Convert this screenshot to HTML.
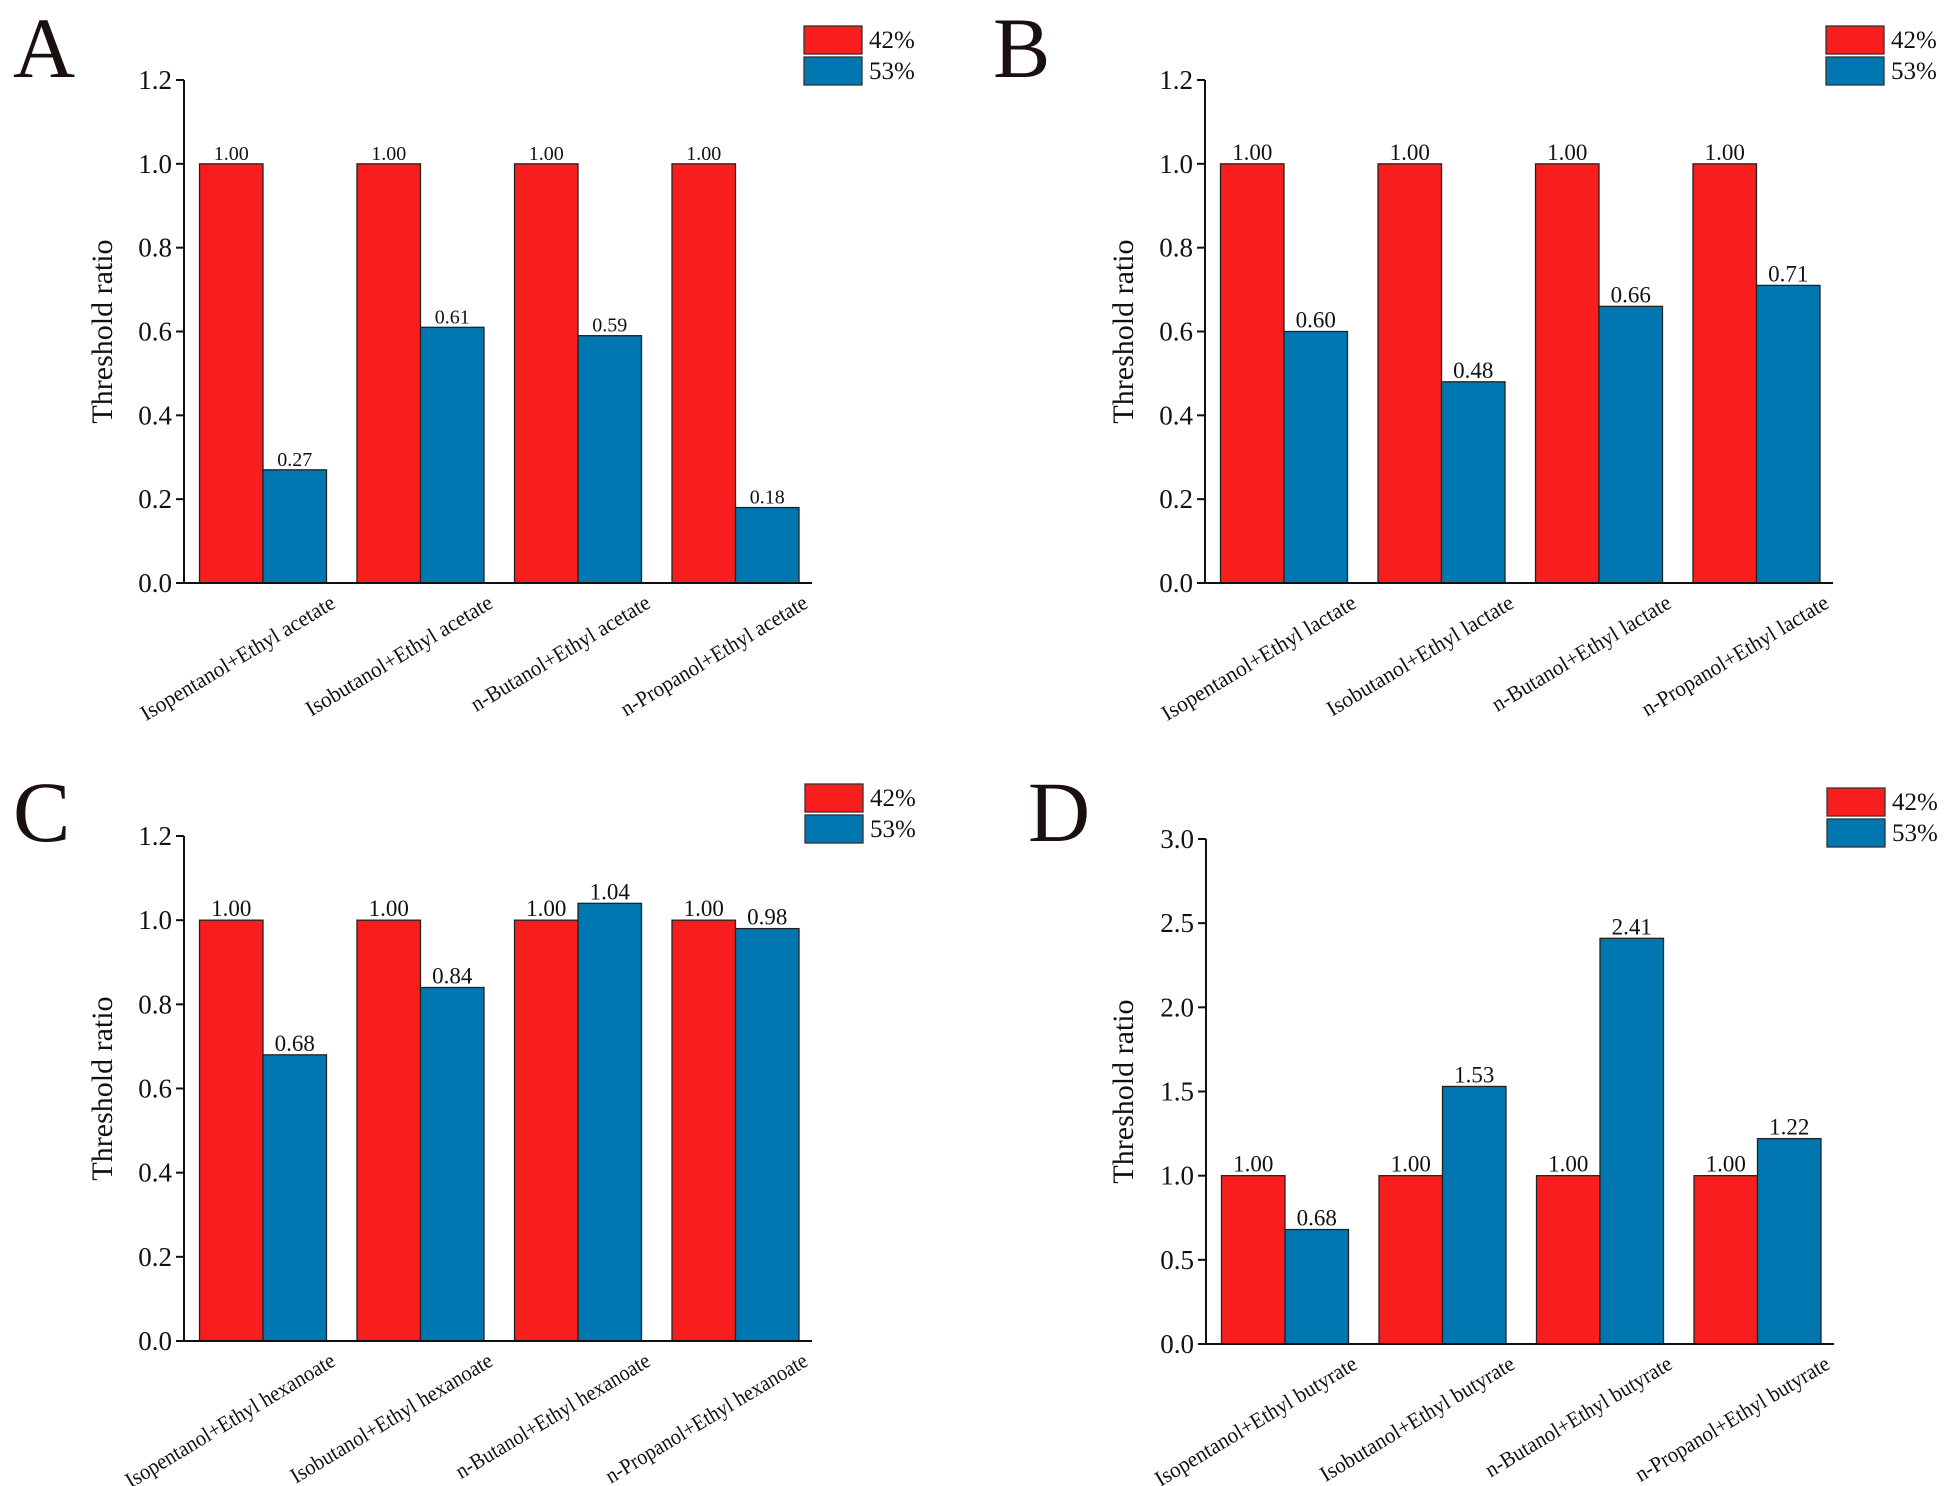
<!DOCTYPE html>
<html><head><meta charset="utf-8"><style>
html,body{margin:0;padding:0;background:#fff}
svg{display:block;font-family:"Liberation Serif",serif}
</style></head><body>
<svg id="fig" width="1949" height="1486" viewBox="0 0 1949 1486" xmlns="http://www.w3.org/2000/svg"></svg>
<script>
const seriesNames = ["42%", "53%"];
const catsA = ["Isopentanol+Ethyl acetate","Isobutanol+Ethyl acetate","n-Butanol+Ethyl acetate","n-Propanol+Ethyl acetate"];
const catsB = ["Isopentanol+Ethyl lactate","Isobutanol+Ethyl lactate","n-Butanol+Ethyl lactate","n-Propanol+Ethyl lactate"];
const catsC = ["Isopentanol+Ethyl hexanoate","Isobutanol+Ethyl hexanoate","n-Butanol+Ethyl hexanoate","n-Propanol+Ethyl hexanoate"];
const catsD = ["Isopentanol+Ethyl butyrate","Isobutanol+Ethyl butyrate","n-Butanol+Ethyl butyrate","n-Propanol+Ethyl butyrate"];
const redA = [1.00,1.00,1.00,1.00];
const blueA = [0.27,0.61,0.59,0.18];
const redB = [1.00,1.00,1.00,1.00];
const blueB = [0.60,0.48,0.66,0.71];
const redC = [1.00,1.00,1.00,1.00];
const blueC = [0.68,0.84,1.04,0.98];
const redD = [1.00,1.00,1.00,1.00];
const blueD = [0.68,1.53,2.41,1.22];
const ticks12 = ["0.0","0.2","0.4","0.6","0.8","1.0","1.2"];
const ticks30 = ["0.0","0.5","1.0","1.5","2.0","2.5","3.0"];

const NS = "http://www.w3.org/2000/svg";
const svg = document.getElementById("fig");
function mk(tag, attrs, parent, text){
  const e = document.createElementNS(NS, tag);
  for (const k in attrs) e.setAttribute(k, attrs[k]);
  if (text !== undefined) e.textContent = text;
  (parent||svg).appendChild(e);
  return e;
}

function panel(id, letter, cfg, cats, red, blue, ticks){
  const g = mk("g", {});
  
  
  const x0 = cfg.x0, x1 = cfg.x0 + 628, top = cfg.top, bot = cfg.bot;
  const ymax = parseFloat(ticks[ticks.length-1]);
  const y = v => bot - (v / ymax) * (bot - top);
  const band = 157.5;
  const xs = i => x0 + 15.5 + i * band;
  const bw = 63.5;

  const L = mk("text", {x: cfg.lx, y: cfg.ly, "font-size": 86, fill: "#1a1010"}, g, letter);
  
  

  for (let i = 0; i < cats.length; i++){
    const r = mk("rect", {x: xs(i), y: y(red[i]), width: bw, height: bot - y(red[i]), fill: "#f81e1e", stroke: "#222", "stroke-width": 1.3}, g);
    
    
    const b = mk("rect", {x: xs(i) + bw, y: y(blue[i]), width: bw, height: bot - y(blue[i]), fill: "#0077b0", stroke: "#222", "stroke-width": 1.3}, g);
    
    
    const t1 = mk("text", {x: xs(i) + bw/2, y: y(red[i]) - 4, "font-size": cfg.vfs, "text-anchor": "middle", fill: "#111"}, g, red[i].toFixed(2));
    
    
    const t2 = mk("text", {x: xs(i) + bw*1.5, y: y(blue[i]) - 4, "font-size": cfg.vfs, "text-anchor": "middle", fill: "#111"}, g, blue[i].toFixed(2));
    
    
    const ax = xs(i) + 2*bw + 2, ay = bot + 10;
    const xl = mk("text", {x: ax, y: ay, "font-size": 22, "text-anchor": "end", "dominant-baseline": "hanging", fill: "#111",
      textLength: (cats[i].length * 8.9).toFixed(1), lengthAdjust: "spacingAndGlyphs",
      transform: "rotate(-31 " + ax + " " + ay + ")"}, g, cats[i]);
    
    
  }
  const ya = mk("line", {x1: x0, y1: top, x2: x0, y2: bot, stroke: "#111", "stroke-width": 2}, g);
  
  
  const xa = mk("line", {x1: x0 - 8, y1: bot, x2: x1, y2: bot, stroke: "#111", "stroke-width": 2}, g);
  
  
  for (let k = 0; k < ticks.length; k++){
    const v = parseFloat(ticks[k]);
    mk("line", {x1: x0 - 8, y1: y(v), x2: x0, y2: y(v), stroke: "#111", "stroke-width": 2}, g);
    const tl = mk("text", {x: x0 - 12, y: y(v) + 9, "font-size": 27, "text-anchor": "end", fill: "#111"}, g, ticks[k]);
    
    
  }
  const ty = (top + bot) / 2;
  const yt = mk("text", {x: cfg.tx, y: ty, "font-size": 30, "text-anchor": "middle", fill: "#111", transform: "rotate(-90 " + cfg.tx + " " + ty + ")"}, g, "Threshold ratio");
  
  
  const cols = ["#f81e1e", "#0077b0"];
  for (let s = 0; s < 2; s++){
    const lg = mk("g", {}, g);
    
    
    mk("rect", {x: cfg.legx, y: cfg.legy + s*31, width: 58, height: 28, fill: cols[s], stroke: "#333", "stroke-width": 1.3}, lg);
    mk("text", {x: cfg.legx + 65, y: cfg.legy + s*31 + 22, "font-size": 25, fill: "#111"}, lg, seriesNames[s]);
  }
}

panel("a", "A", {x0: 184, top: 80, bot: 583, lx: 13, ly: 77, tx: 112, legx: 804, legy: 26, vfs: 20}, catsA, redA, blueA, ticks12);
panel("b", "B", {x0: 1205, top: 80, bot: 583, lx: 993, ly: 77, tx: 1133, legx: 1826, legy: 26, vfs: 23}, catsB, redB, blueB, ticks12);
panel("c", "C", {x0: 184, top: 836, bot: 1341, lx: 13, ly: 841, tx: 112, legx: 805, legy: 784, vfs: 23}, catsC, redC, blueC, ticks12);
panel("d", "D", {x0: 1206, top: 839, bot: 1344, lx: 1028, ly: 841, tx: 1133, legx: 1827, legy: 788, vfs: 23}, catsD, redD, blueD, ticks30);
</script>
</body></html>
